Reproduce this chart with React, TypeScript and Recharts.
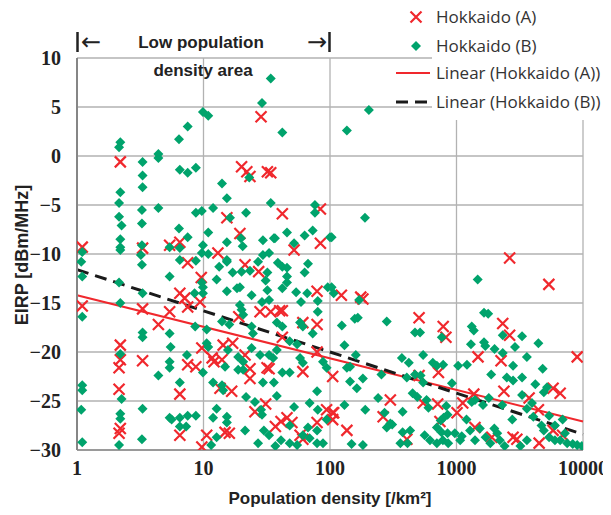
import React from "react";
import {
  CartesianGrid,
  ReferenceLine,
  Scatter,
  ScatterChart,
  XAxis,
  YAxis,
} from "recharts";

// population density [/km2], EIRP [dBm/MHz]
const hokkaidoA: [number, number][] = [
  [1.1, -9.3], [1.1, -15.3], [2.2, -0.6], [2.2, -19.3], [2.2, -20.8], [2.15, -21.6],
  [2.15, -23.8], [2.2, -27.8], [2.15, -28.3], [3.3, -9.4], [3.3, -15.6], [3.3, -20.9],
  [5.4, -9.1], [5.4, -15.9], [4.4, -17.2], [6.5, -8.8], [7.5, -10.9], [6.5, -14.0],
  [7.1, -14.5], [7.5, -15.4], [6.5, -24.3], [6.5, -28.5], [7.5, -21.3], [8.7, -21.5],
  [9.6, -12.4], [9.4, -14.9], [9.7, -19.6], [11.7, -20.6], [12.1, -21.0], [14, -20.8],
  [14.3, -19.3], [17, -19.1], [13.5, -23.7], [16.7, -24.0], [14.8, -28.2], [16, -28.3],
  [10.6, -28.5], [9.7, -29.7], [13, -9.9], [15.3, -6.3], [19.4, -7.9], [19, -16.4],
  [21.3, -11.1], [21.3, -20.3], [23.3, -21.7], [23.3, -22.7], [20, -1.1], [22, -1.6],
  [23.3, -2.1], [32, -1.6], [34, -1.7], [28.5, 4.0], [27.3, -11.8], [28, -15.9],
  [34, -15.9], [40, -15.8], [42, -15.8], [31.8, -21.6], [33, -21.7], [31, -25.3],
  [37, -27.6], [45.7, -26.7], [50, -27.2], [42, -5.9], [42, -18.5], [52, -9.6],
  [61, -17.0], [79, -17.2], [61, -22.0], [79, -13.8], [79, -20.0], [84, -5.4],
  [84, -8.9], [61, -28.9], [94, -25.9], [105, -22.5], [25.5, -26.1], [41, -27.1],
  [105, -26.2], [79, -27.2], [58, -28.5], [123, -14.2], [182, -14.6], [175, -14.4],
  [506, -16.5], [785, -17.4], [825, -18.5], [2320, -17.1], [2630, -18.3], [2630, -10.4],
  [5370, -13.1], [1480, -20.5], [2250, -20.9], [9000, -20.5], [506, -22.4], [720, -22.1],
  [2370, -24.0], [5800, -23.7], [6600, -24.2], [3750, -24.7], [4440, -25.9], [1370, -24.3],
  [1120, -25.2], [710, -25.3], [1010, -26.2], [545, -25.2], [300, -24.9], [263, -26.6],
  [136, -28.0], [405, -28.9], [740, -27.1], [1400, -27.7], [1900, -28.7], [2800, -28.7],
  [3000, -28.9], [5800, -28.0], [6900, -28.5], [4500, -29.3], [107, -26.2], [105, -26.9],
];

const hokkaidoB: [number, number][] = [
  [1.1, -9.8], [1.08, -10.8], [1.1, -12.3], [1.1, -16.4], [1.1, -23.4], [1.1, -23.9],
  [1.08, -25.9], [1.1, -29.2],
  [2.2, 1.4], [2.15, 0.9], [2.2, -3.7], [2.15, -4.8], [2.15, -6.2], [2.25, -7.1],
  [2.2, -8.5], [2.2, -9.3], [2.2, -9.6], [2.15, -12.9], [2.2, -15.0], [2.2, -20.2],
  [2.25, -24.8], [2.2, -26.3], [2.2, -26.8], [2.15, -29.5],
  [3.3, -0.6], [3.3, -2.0], [3.3, -3.2], [3.26, -5.5], [3.26, -6.9], [3.26, -9.1],
  [3.2, -10.1], [3.26, -11.1], [3.3, -14.0], [3.3, -18.0], [3.3, -18.5], [3.3, -25.8],
  [3.26, -28.9],
  [4.4, 0.2], [4.4, -0.2], [4.4, -5.3], [4.4, -22.4],
  [5.4, -9.3], [5.4, -12.3], [5.4, -18.1], [5.5, -19.5], [5.4, -21.0], [5.4, -21.6],
  [5.4, -26.7], [5.6, -26.9],
  [6.4, 1.7], [6.5, -1.4], [6.4, -7.4], [6.5, -9.4], [6.5, -10.6], [6.5, -23.1],
  [6.5, -26.7], [6.5, -27.6],
  [7.5, 3.0], [7.5, -1.7], [7.5, -8.3], [7.4, -20.3], [7.5, -26.5], [7.3, -27.6],
  [8.7, -1.2], [8.7, -5.8], [8.7, -10.7], [8.7, -26.5], [8.6, -17.4], [8.5, -14.0],
  [9.9, 4.5], [10.9, 4.1], [9.7, -5.6], [9.9, -9.1], [9.7, -9.9], [10.9, -10.0],
  [9.7, -12.9], [9.9, -13.4], [9.9, -14.0], [9.9, -22.1], [10.6, -19.1], [10.9, -19.5],
  [10.6, -17.7], [10.9, -7.8],
  [11.9, -5.3], [14, -2.8], [15.3, -4.3], [15.3, -8.8], [15.3, -10.6], [15.3, -10.8],
  [13.3, -11.3], [12.7, -12.6], [17, -11.9], [20, -11.8], [15.3, -13.8], [18.4, -13.5],
  [19.4, -13.4], [19.4, -15.2], [20, -15.7], [20.6, -16.2], [14, -16.9], [16, -17.2],
  [15.6, -19.8], [18.8, -20.5], [20.6, -21.0], [14.8, -21.5], [18.8, -21.8], [20.6, -21.8],
  [11.9, -23.1], [14, -23.4], [14.3, -23.9], [12.7, -25.8], [11.9, -26.7], [15.3, -26.6],
  [15.3, -27.2], [12.7, -28.7], [16.2, -6.3], [19.8, -8.4], [20.4, -9.2], [11.5, -29.5],
  [23, -2.2], [21.7, -5.8], [23.3, -11.7], [27, -10.8], [29.5, -8.6], [36, -8.4],
  [32, -11.9], [31, -12.7], [33, -9.9], [29.5, -10.1], [38.7, -10.9], [24, -14.2],
  [32, -13.7], [33, -14.7], [29, -14.9], [24, -19.6], [24.6, -18.1], [24, -17.4],
  [28, -20.3], [33, -20.3], [35.5, -20.6], [29.5, -23.1], [36, -23.1], [21.7, -24.6],
  [25.5, -25.1], [28.5, -25.9], [29, -26.4], [38, -24.5], [21.3, -28.0], [30, -28.0],
  [33, -28.5], [34, 7.9], [29, 5.4], [34, -4.8], [36.7, -8.4], [38, -17.0],
  [38, -19.8], [27, -29.3], [37, -29.6],
  [42, 2.4], [45.7, -7.8], [63, -8.1], [73, -7.6], [76, -5.0], [76, -5.8],
  [100, -8.3], [42, -11.3], [45.7, -11.4], [45.7, -12.3], [45.7, -12.9], [52, -8.9],
  [67, -11.0], [63, -11.9], [54, -13.9], [66, -14.0], [80, -14.8], [80, -15.9],
  [96, -13.4], [59, -14.9], [42, -13.5], [42, -17.4], [58, -17.0], [61, -17.4],
  [73, -18.1], [48, -18.9], [55, -19.2], [58, -20.6], [61, -21.1], [88, -21.0],
  [94, -21.6], [42, -22.1], [48, -22.1], [79, -24.0], [69, -25.2], [52, -25.6],
  [48, -27.5], [41, -29.0], [48, -29.3], [55, -29.5], [61, -28.5], [69, -28.8],
  [79, -29.3], [88, -29.3], [67, -27.7], [79, -28.0], [80, -25.9], [94, -26.9],
  [189, -6.3], [203, 4.7], [136, 2.6], [103, -8.3], [1470, -12.6], [103, -13.4],
  [107, -14.0], [170, -14.7], [157, -16.6], [166, -16.5], [281, -16.9], [124, -17.3],
  [470, -18.0], [515, -18.0], [765, -18.5], [1320, -17.4], [1370, -17.8], [1650, -16.0],
  [1780, -16.1], [2320, -18.3], [3300, -18.4], [1300, -19.2], [1650, -19.0], [1690, -19.4],
  [2000, -19.7], [2900, -19.5], [4440, -19.1], [2320, -20.1], [3600, -20.5], [545, -20.3],
  [370, -20.6], [420, -21.1], [1030, -21.4], [1210, -21.3], [2800, -21.4], [4800, -21.7],
  [650, -21.1], [700, -21.4], [785, -21.3], [136, -21.6], [144, -23.0], [182, -22.7],
  [163, -23.7], [405, -22.6], [470, -22.3], [545, -23.1], [920, -23.2], [1880, -22.3],
  [2500, -22.6], [2800, -22.9], [3300, -22.6], [4200, -23.3], [5200, -23.6], [4900, -24.1],
  [3300, -24.4], [3950, -25.2], [6900, -26.9], [1320, -25.1], [1400, -24.9], [1620, -25.4],
  [580, -24.9], [830, -25.5], [850, -26.4], [600, -25.7], [490, -24.6], [240, -24.7],
  [270, -26.2], [281, -27.7], [310, -27.4], [375, -26.1], [190, -25.9], [130, -25.4],
  [148, -29.4], [182, -29.5], [375, -28.2], [430, -28.0], [360, -29.3], [410, -29.3],
  [560, -28.5], [617, -29.0], [700, -29.3], [780, -29.0], [860, -29.3], [750, -27.0],
  [790, -26.7], [700, -27.7], [760, -28.2], [850, -28.3], [970, -28.3], [1070, -29.0],
  [1280, -28.0], [1400, -29.0], [1530, -27.8], [1700, -28.7], [1850, -29.3], [1990, -27.8],
  [2100, -28.3], [2200, -29.0], [2400, -29.6], [3200, -29.6], [3600, -29.0], [2760, -26.9],
  [4050, -26.6], [4700, -27.5], [4900, -28.0], [5400, -28.7], [6000, -29.0], [6600, -29.0],
  [7500, -29.3], [8300, -29.4], [9000, -29.5], [9800, -29.6], [3600, -25.8], [5400, -26.5],
  [6000, -27.5], [7200, -28.3], [130, -19.3], [144, -21.5], [160, -20.3], [255, -22.3],
  [300, -27.3], [520, -22.4], [450, -24.2], [1800, -24.7], [2300, -25.4], [1200, -26.9],
  [1100, -28.6],
];

// trend line end points (x = 1 and x = 10000)
const linearA: [number, number][] = [[1, -14.2], [10000, -27.1]];
const linearB: [number, number][] = [[1, -11.6], [10000, -28.4]];

const densityTicks = [1, 10, 100, 1000, 10000];
const eirpTicks = [-30, -25, -20, -15, -10, -5, 0, 5, 10];

const RED = "#f0282d";
const GREEN = "#00a36c";

const W = 603;
const H = 500;
const PAD = 8; // overlay reaches up into the body margin

const toPoints = (rows: [number, number][]) => rows.map(([x, y]) => ({ x, y }));

function Cross(props: any) {
  const { cx, cy } = props;
  if (cx == null || cy == null) return null;
  const s = 5.5;
  return (
    <path
      d={`M${cx - s},${cy - s}L${cx + s},${cy + s}M${cx - s},${cy + s}L${cx + s},${cy - s}`}
      stroke={RED}
      strokeWidth={2.2}
      fill="none"
    />
  );
}

function Diamond(props: any) {
  const { cx, cy } = props;
  if (cx == null || cy == null) return null;
  const s = 5;
  return <path d={`M${cx},${cy - s}L${cx + s},${cy}L${cx},${cy + s}L${cx - s},${cy}Z`} fill={GREEN} />;
}

const tickStyle = { fontFamily: "'Liberation Serif', serif", fontWeight: 700, fontSize: 20, fill: "#222" };
const titleFont = "'Liberation Sans', Arial, sans-serif";
const legendFont = "'Open Sans', sans-serif";

// minus sign drawn wide, as in the source figure
const eirpLabel = (v: number) => (v < 0 ? `\u2212${Math.abs(v)}` : `${v}`);

export default function App() {
  return (
    <div style={{ position: "relative", width: W, height: H }}>
      <ScatterChart width={W} height={H} margin={{ top: 50, right: 28, bottom: 28, left: 0 }}>
        <CartesianGrid stroke="#b2b2b2" strokeWidth={1.3} />
        <XAxis
          dataKey="x"
          type="number"
          scale="log"
          domain={[1, 10000]}
          ticks={densityTicks}
          allowDataOverflow
          height={30}
          tickLine={false}
          tickSize={0}
          tickMargin={11}
          axisLine={{ stroke: "#9a9a9a", strokeWidth: 2 }}
          tick={tickStyle}
        />
        <YAxis
          dataKey="y"
          type="number"
          domain={[-30, 10]}
          ticks={eirpTicks}
          tickFormatter={eirpLabel}
          allowDataOverflow
          width={69}
          tickLine={false}
          tickSize={0}
          tickMargin={16}
          axisLine={{ stroke: "#868686", strokeWidth: 2 }}
          tick={tickStyle}
        />
        <Scatter data={toPoints(hokkaidoA)} shape={Cross} isAnimationActive={false} />
        <Scatter data={toPoints(hokkaidoB)} shape={Diamond} isAnimationActive={false} />
        <ReferenceLine segment={toPoints(linearA)} stroke={RED} strokeWidth={2} />
        <ReferenceLine segment={toPoints(linearB)} stroke="#1a1a1a" strokeWidth={3} strokeDasharray="12 7" />
      </ScatterChart>

      <svg
        width={W}
        height={H + PAD}
        style={{ position: "absolute", left: 0, top: -PAD, pointerEvents: "none" }}
      >
        <g transform={`translate(0, ${PAD})`}>
          {/* annotation above the plot */}
          <line x1={69.5} y1={24} x2={69.5} y2={44} stroke="#222" strokeWidth={2.5} />
          <line x1={321.5} y1={24} x2={321.5} y2={44} stroke="#222" strokeWidth={2.5} />
          <text x={83} y={34} textAnchor="middle" dominantBaseline="central" fontSize={24} fill="#222" fontFamily="DejaVu Sans">←</text>
          <text x={309} y={34} textAnchor="middle" dominantBaseline="central" fontSize={24} fill="#222" fontFamily="DejaVu Sans">→</text>
          <text x={193} y={34} textAnchor="middle" dominantBaseline="central" fontSize={17} fontWeight={700} fill="#222" fontFamily={titleFont}>
            Low population
          </text>
          <text x={195} y={62} textAnchor="middle" dominantBaseline="central" fontSize={17} fontWeight={700} fill="#222" fontFamily={titleFont}>
            density area
          </text>

          {/* legend */}
          <rect x={424} y={30} width={179} height={82} fill="#fff" />
          <Cross cx={408} cy={9} />
          <Diamond cx={408} cy={38} />
          <line x1={388} y1={65} x2={422} y2={65} stroke={RED} strokeWidth={2} />
          <line x1={388} y1={94} x2={422} y2={94} stroke="#1a1a1a" strokeWidth={3} strokeDasharray="12 7" />
          <g fontFamily={legendFont} fontSize={17} fill="#333">
            <text x={428} y={15}>Hokkaido (A)</text>
            <text x={428} y={44}>Hokkaido (B)</text>
            <text x={428} y={71}>Linear (Hokkaido (A))</text>
            <text x={428} y={100}>Linear (Hokkaido (B))</text>
          </g>

          {/* axis titles */}
          <text
            x={14}
            y={247}
            transform="rotate(-90 14 247)"
            textAnchor="middle"
            dominantBaseline="central"
            fontSize={18}
            fontWeight={700}
            fill="#222"
            fontFamily={titleFont}
          >
            EIRP [dBm/MHz]
          </text>
          <text x={322} y={490} textAnchor="middle" dominantBaseline="central" fontSize={17} fontWeight={700} fill="#222" fontFamily={titleFont}>
            Population density [/km²]
          </text>
        </g>
      </svg>
    </div>
  );
}
